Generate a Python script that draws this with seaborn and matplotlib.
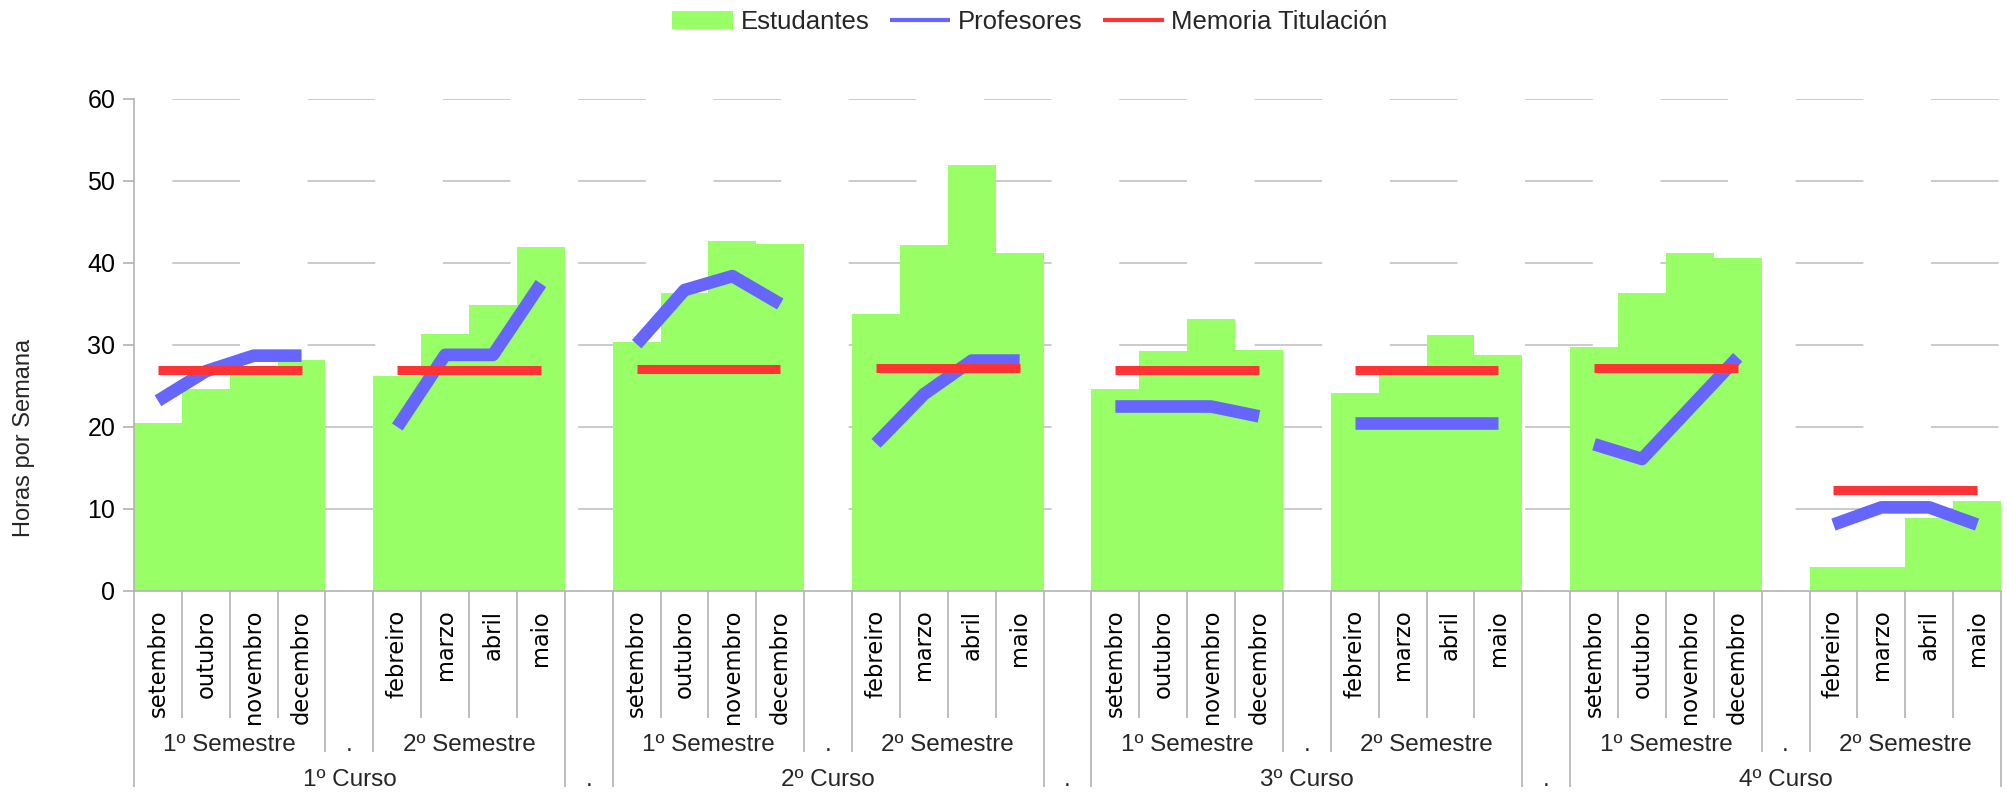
import numpy as np
import pandas as pd
import matplotlib
matplotlib.use("Agg")
import matplotlib.pyplot as plt
import seaborn as sns
from matplotlib.lines import Line2D
from matplotlib.patches import Patch

# ---------------- data ----------------
cursos = ["1º Curso", "2º Curso", "3º Curso", "4º Curso"]
semestres = ["1º Semestre", "2º Semestre"]
meses_s1 = ["setembro", "outubro", "novembro", "decembro"]
meses_s2 = ["febreiro", "marzo", "abril", "maio"]
series_names = ["Estudantes", "Profesores", "Memoria Titulación"]
y_ticks = [0, 10, 20, 30, 40, 50, 60]

# each list: 1º Semestre (4 months) then 2º Semestre (4 months)
estudantes_c1 = [20.5, 24.6, 27.0, 28.2, 26.2, 31.3, 34.9, 41.9]
estudantes_c2 = [30.4, 36.3, 42.7, 42.3, 33.8, 42.2, 51.9, 41.2]
estudantes_c3 = [24.6, 29.3, 33.2, 29.4, 24.1, 26.5, 31.2, 28.8]
estudantes_c4 = [29.8, 36.4, 41.2, 40.6, 2.9, 2.9, 8.9, 11.0]

profesores_c1 = [23.2, 26.8, 28.7, 28.7, 20.0, 28.8, 28.8, 37.5]
profesores_c2 = [30.1, 36.7, 38.4, 35.0, 18.0, 24.0, 28.1, 28.1]
profesores_c3 = [22.5, 22.5, 22.5, 21.3, 20.5, 20.5, 20.5, 20.5]
profesores_c4 = [17.9, 16.1, 22.3, 28.5, 8.1, 10.2, 10.2, 8.1]

memoria_c1 = [27.0, 27.0, 27.0, 27.0, 27.0, 27.0, 27.0, 27.0]
memoria_c2 = [27.1, 27.1, 27.1, 27.1, 27.2, 27.2, 27.2, 27.2]
memoria_c3 = [27.0, 27.0, 27.0, 27.0, 26.9, 26.9, 26.9, 26.9]
memoria_c4 = [27.2, 27.2, 27.2, 27.2, 12.3, 12.3, 12.3, 12.3]

estudantes = [estudantes_c1, estudantes_c2, estudantes_c3, estudantes_c4]
profesores = [profesores_c1, profesores_c2, profesores_c3, profesores_c4]
memoria = [memoria_c1, memoria_c2, memoria_c3, memoria_c4]

# ---------------- colours / style ----------------
C_EST = "#99ff66"
C_PROF = "#6666ff"
C_MEM = "#ff3333"
C_AX = "#b3b3b3"
C_GRID = "#cccccc"

sns.set_theme(style="white")
plt.rcParams["font.family"] = ["Liberation Sans", "DejaVu Sans"]
plt.rcParams["lines.scale_dashes"] = False

# ---------------- build table ----------------
rows = []
order = []
n_cols = 39
pos_info = {}
for i in range(4):
    for j in range(2):
        months = meses_s1 if j == 0 else meses_s2
        for k in range(4):
            pos = i * 10 + j * 5 + k
            cid = f"c{i}s{j}m{k}"
            pos_info[pos] = (cid, months[k])
            rows.append(dict(cat=cid, pos=pos, seg=f"{i}-{j}",
                             mes=months[k],
                             est=estudantes[i][j * 4 + k],
                             prof=profesores[i][j * 4 + k],
                             mem=memoria[i][j * 4 + k]))
df = pd.DataFrame(rows)
for p in range(n_cols):
    order.append(pos_info[p][0] if p in pos_info else f"gap{p}")

# ---------------- figure ----------------
W, H = 2008, 794
fig = plt.figure(figsize=(W / 100, H / 100), dpi=100)
ax_l, ax_r, ax_t, ax_b = 134, 2001, 99, 591
ax = fig.add_axes([ax_l / W, 1 - ax_b / H, (ax_r - ax_l) / W, (ax_b - ax_t) / H])

sns.barplot(data=df, x="cat", y="est", order=order, color=C_EST, saturation=1,
            width=1, errorbar=None, linewidth=0, ax=ax, zorder=2)
sns.lineplot(data=df, x="pos", y="prof", units="seg", estimator=None,
             color=C_PROF, lw=9.1, ax=ax, legend=False, zorder=4,
             solid_capstyle="butt", solid_joinstyle="round")
sns.lineplot(data=df, x="pos", y="mem", units="seg", estimator=None,
             color=C_MEM, lw=6.5, ax=ax, legend=False, zorder=5,
             solid_capstyle="butt")

ax.set_xlim(-0.5, n_cols - 0.5)
ax.set_ylim(0, 60)
ax.set_yticks(y_ticks)
ax.set_yticklabels([str(t) for t in y_ticks], fontsize=18)
ax.set_xlabel("")
ax.set_ylabel("")

# grid (dashed, light gray), drawn below the bars
ax.grid(False)
for t in y_ticks[1:]:
    ax.axhline(t, color=C_GRID, lw=1.45, linestyle=(69.8, (48.7, 48.7)),
               zorder=0.5)

for s in ["top", "right"]:
    ax.spines[s].set_visible(False)
for s in ["left", "bottom"]:
    ax.spines[s].set_color(C_AX)
    ax.spines[s].set_linewidth(1.2)

ax.tick_params(axis="y", which="major", direction="out", length=8, width=1.2,
               color=C_AX, pad=5.5, labelcolor="black", left=True)

# month labels
mpos = sorted(pos_info.keys())
ax.set_xticks(mpos)
ax.set_xticklabels([pos_info[p][1] for p in mpos], rotation=90,
                   fontsize=16.3, family="DejaVu Sans")
ax.tick_params(axis="x", which="major", length=0, pad=13.5, labelcolor="black")

# category separators
trans = ax.get_xaxis_transform()
ah = ax_b - ax_t
d_month = -(718 - ax_b) / ah
d_sem = -(752 - ax_b) / ah
d_curso = -(787 - ax_b) / ah
for m in range(n_cols + 1):
    b = m - 0.5
    c = m % 10
    if m in (0, 9, 10, 19, 20, 29, 30, 39):
        d = d_curso
    elif c in (4, 5):
        d = d_sem
    else:
        d = d_month
    ax.plot([b, b], [0, d], transform=trans, clip_on=False, color=C_AX,
            lw=1.2, solid_capstyle="butt")

# semester / curso labels
y_sem = -(745 - ax_b) / ah
y_cur = -(780 - ax_b) / ah
for i in range(4):
    for j in range(2):
        ax.text(i * 10 + j * 5 + 1.5, y_sem, semestres[j], transform=trans,
                ha="center", va="center", fontsize=17.5)
    ax.text(i * 10 + 4, y_sem, ".", transform=trans, ha="center",
            va="center", fontsize=17.5)
    ax.text(i * 10 + 4, y_cur, cursos[i], transform=trans, ha="center",
            va="center", fontsize=17.5)
    if i < 3:
        ax.text(i * 10 + 9, y_cur, ".", transform=trans, ha="center",
                va="center", fontsize=17.5)

# y label
fig.text(24 / W, 1 - 438 / H, "Horas por Semana", rotation=90, ha="center",
         va="center", fontsize=17)

# legend
handles = [Patch(facecolor=C_EST, edgecolor="none"),
           Line2D([], [], color=C_PROF, lw=3, solid_capstyle="butt"),
           Line2D([], [], color=C_MEM, lw=3, solid_capstyle="butt")]
fig.legend(handles, series_names, loc="center", ncol=3, frameon=False,
           bbox_to_anchor=(1030 / W, 1 - 22 / H), fontsize=18.5,
           handlelength=2.35, handletextpad=0.3, columnspacing=0.8)

fig.savefig("out.png", dpi=100)
